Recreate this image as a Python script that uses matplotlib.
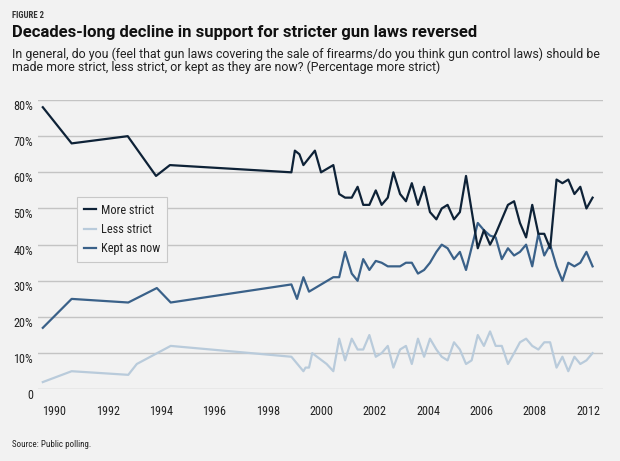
import matplotlib
matplotlib.use("Agg")
import matplotlib.pyplot as plt
from matplotlib import font_manager

# poll dates (decimal years) and shares
strict_x = [1989.57, 1990.65, 1992.75, 1993.81, 1994.33, 1998.88, 1999.01, 1999.18, 1999.33, 1999.76,
            1999.99, 2000.45, 2000.67, 2000.89, 2001.14, 2001.36, 2001.57, 2001.80, 2002.04, 2002.26,
            2002.49, 2002.70, 2002.95, 2003.17, 2003.39, 2003.62, 2003.85, 2004.07, 2004.31, 2004.51,
            2004.73, 2004.97, 2005.19, 2005.42, 2005.86, 2006.09, 2006.32, 2006.53, 2006.76, 2006.99,
            2007.22, 2007.44, 2007.67, 2007.90, 2008.13, 2008.35, 2008.57, 2008.81, 2009.03, 2009.25,
            2009.48, 2009.70, 2009.93, 2010.16]
more_strict = [78, 68, 70, 59, 62, 60, 66, 65, 62, 66,
               60, 62, 54, 53, 53, 56, 51, 51, 55, 51,
               53, 60, 54, 52, 57, 51, 56, 49, 47, 50,
               51, 47, 49, 59, 39, 44, 40, 43, 47, 51,
               52, 46, 42, 51, 43, 43, 39, 58, 57, 58,
               54, 56, 50, 53]

kept_x = [1989.57, 1990.65, 1992.77, 1993.84, 1994.36, 1998.88, 1999.09, 1999.33, 1999.54, 2000.45,
          2000.67, 2000.89, 2001.14, 2001.36, 2001.57, 2001.80, 2002.04, 2002.26, 2002.49, 2002.95,
          2003.17, 2003.39, 2003.62, 2003.85, 2004.07, 2004.31, 2004.51, 2004.73, 2004.97, 2005.19,
          2005.42, 2005.86, 2006.09, 2006.32, 2006.53, 2006.76, 2006.99, 2007.22, 2007.44, 2007.67,
          2007.90, 2008.13, 2008.35, 2008.57, 2008.81, 2009.03, 2009.25, 2009.48, 2009.70, 2009.93,
          2010.16]
kept_as_now = [17, 25, 24, 28, 24, 29, 25, 31, 27, 31,
               31, 38, 32, 30, 36, 33, 35.5, 35, 34, 34,
               35, 35, 32, 33, 35, 38, 40, 39, 36, 38,
               33, 46, 44, 42.5, 42, 36, 39, 37, 38, 40,
               34, 43, 37, 40, 34, 30, 35, 34, 35, 38,
               34]

less_x = [1989.57, 1990.65, 1992.77, 1993.09, 1994.36, 1998.88, 1999.33, 1999.41, 1999.54, 1999.66,
          2000.20, 2000.45, 2000.67, 2000.89, 2001.14, 2001.36, 2001.57, 2001.80, 2002.04, 2002.26,
          2002.49, 2002.70, 2002.95, 2003.17, 2003.39, 2003.62, 2003.85, 2004.07, 2004.31, 2004.51,
          2004.73, 2004.97, 2005.19, 2005.42, 2005.63, 2005.86, 2006.09, 2006.32, 2006.53, 2006.76,
          2006.99, 2007.22, 2007.44, 2007.67, 2007.90, 2008.13, 2008.35, 2008.57, 2008.81, 2009.03,
          2009.25, 2009.48, 2009.70, 2009.93, 2010.16]
less_strict = [2, 5, 4, 7, 12, 9, 5, 6, 6, 10,
               7, 5, 14, 8, 14, 11, 11, 15, 9, 10,
               12, 6, 11, 12, 7, 14, 9, 14, 11, 9,
               8, 13, 11, 7, 8, 15, 12, 16, 12, 12,
               7, 10, 13, 14, 12, 11, 13, 13, 6, 9,
               5, 9, 7, 8, 10]

x_ticks = [1990, 1992, 1994, 1996, 1998, 2000, 2002, 2004, 2006, 2008, 2010]
x_tick_labels = ["1990", "1992", "1994", "1996", "1998", "2000", "2002", "2004", "2006", "2008", "2012"]
y_ticks = [0, 10, 20, 30, 40, 50, 60, 70, 80]
y_tick_labels = ["0", "10%", "20%", "30%", "40%", "50%", "60%", "70%", "80%"]

BG = "#f2f2f2"
W, H = 620, 461

# narrow family for ticks/legend, normal width for the header
installed = {f.name for f in font_manager.fontManager.ttflist}
NARROW = "Liberation Sans"
for name in ["Liberation Sans Narrow", "Roboto Condensed", "Open Sans Condensed"]:
    if name in installed:
        NARROW = name
        break
HEAD = ["Roboto", "DejaVu Sans"]
plt.rcParams["font.family"] = [NARROW, "DejaVu Sans"]

fig = plt.figure(figsize=(W / 100, H / 100), dpi=100, facecolor=BG)
ax = fig.add_axes([38 / W, 1 - 389.3 / H, (603 - 38) / W, (389.3 - 100) / H])
ax.set_facecolor(BG)

ax.plot(strict_x, more_strict, color="#0e2237", lw=1.6, label="More strict", clip_on=False, zorder=4)
ax.plot(less_x, less_strict, color="#b9cbdb", lw=1.6, label="Less strict", clip_on=False, zorder=3)
ax.plot(kept_x, kept_as_now, color="#3a6189", lw=1.6, label="Kept as now", clip_on=False, zorder=3)

ax.set_xlim(1989.39, 2010.55)
ax.set_ylim(0, 80)
for s in ax.spines.values():
    s.set_visible(False)
ax.set_yticks(y_ticks)
ax.set_yticklabels([])
ax.tick_params(axis="y", length=0)
ax.grid(axis="y", color="#c4c4c4", lw=1.0)
ax.set_axisbelow(True)
for v, lab in zip(y_ticks, y_tick_labels):
    ax.text(-5 / (603 - 38), v, lab, transform=ax.get_yaxis_transform(), ha="right", va="top",
            fontsize=8.7, color="#222222")

ax.set_xticks(x_ticks, x_tick_labels)
ax.tick_params(axis="x", length=0, pad=11, labelsize=8.7, labelcolor="#222222")

leg = ax.legend(loc="upper left", bbox_to_anchor=(77 / W, 1 - 197 / H), bbox_transform=fig.transFigure,
                frameon=True, fancybox=False, fontsize=8.8, handlelength=1.0, handletextpad=0.45,
                labelspacing=0.5, borderpad=0.55, borderaxespad=0)
leg.get_frame().set_facecolor("#f4f4f4")
leg.get_frame().set_edgecolor("#c8c8c8")
leg.get_frame().set_linewidth(0.8)
leg.get_frame().set_alpha(1)
for t in leg.get_texts():
    t.set_color("#222222")

def fig_text(x, y, s, **kw):
    fig.text(x / W, 1 - y / H, s, va="baseline", ha="left", **kw)

fig_text(12, 18.3, "FIGURE 2", fontsize=6.3, fontweight="bold", color="#333333")
fig_text(12, 36.7, "Decades-long decline in support for stricter gun laws reversed",
         fontsize=12.0, fontweight="bold", color="#111111", family=HEAD)
fig_text(12, 58.3, "In general, do you (feel that gun laws covering the sale of firearms/do you think gun "
         "control laws) should be", fontsize=8.95, color="#222222", family=HEAD)
fig_text(12, 70.5, "made more strict, less strict, or kept as they are now? (Percentage more strict)",
         fontsize=8.95, color="#222222", family=HEAD)
fig_text(12, 447, "Source: Public polling.", fontsize=6.5, color="#222222")

fig.savefig("out.png", dpi=100, facecolor=BG)
